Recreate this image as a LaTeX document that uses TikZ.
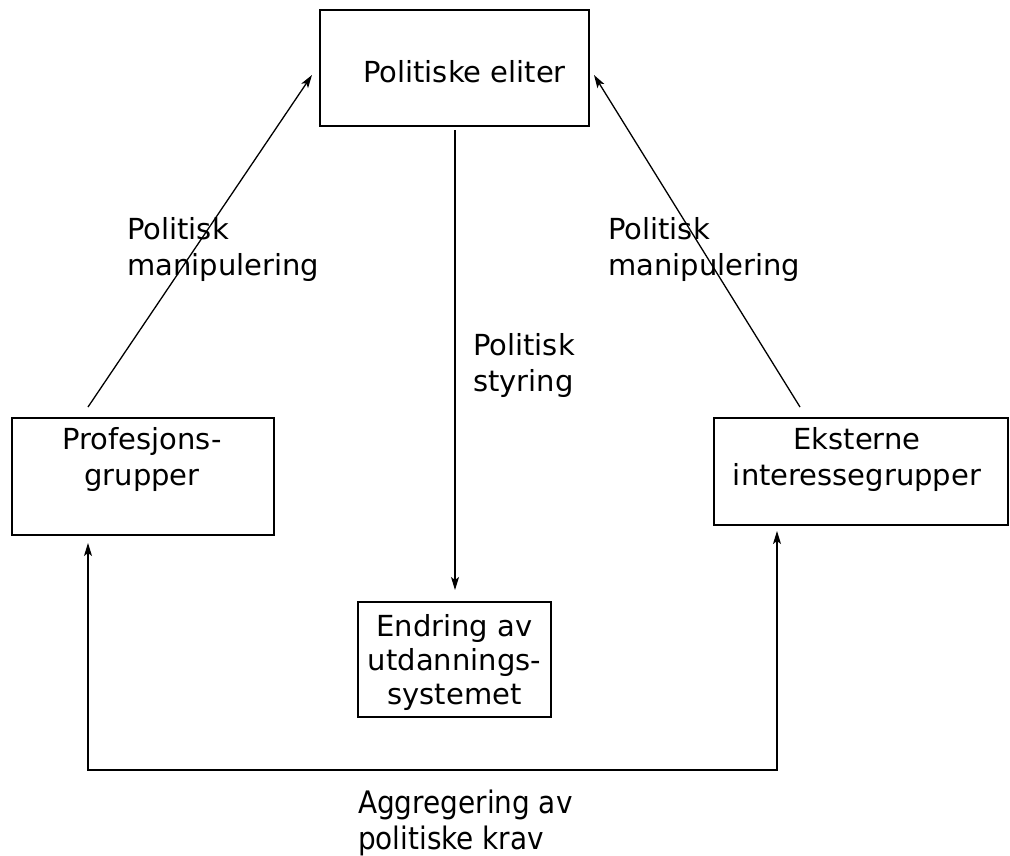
\documentclass[tikz,border=0pt]{standalone}
\usepackage{fontspec}
\setmainfont{DejaVu Sans}
\newfontfamily\condfont{DejaVu Sans Condensed}
\usetikzlibrary{arrows.meta}
\begin{document}
\begin{tikzpicture}[x=1pt,y=-1pt,
  box/.style={draw,line width=1.5pt,inner sep=0pt},
  txt/.style={font=\fontsize{29}{36}\selectfont,align=center,inner sep=0pt},
  tip/.style={Stealth[length=13pt,width=8pt,inset=3pt]},
  conn/.style={line width=1.3pt,-{Stealth[length=13pt,width=8pt,inset=3pt]}},
  conn2/.style={line width=1.3pt,{Stealth[length=13pt,width=8pt,inset=3pt]}-{Stealth[length=13pt,width=8pt,inset=3pt]}}]
\useasboundingbox (0,0) rectangle (1010,855);
% boxes
\node[box,minimum width=269pt,minimum height=116pt] (top) at (454.5,68) {};
\node[box,minimum width=262pt,minimum height=117pt] (left) at (143,476.5) {};
\node[box,minimum width=294pt,minimum height=107pt] (right) at (861,471.5) {};
\node[box,minimum width=193pt,minimum height=115pt] (bot) at (454.5,659.5) {};
% texts
\node[txt] (ttop) at (464.5,72) {Politiske eliter};
\node[txt] (tleft) at (142,459) {Profesjons-\\grupper};
\node[txt] (tright) at (857,459) {Eksterne\\interessegrupper};
\node[txt,font=\fontsize{29}{34}\selectfont] (tbot) at (454.5,662) {Endring av\\utdannings-\\systemet};
% labels
\node[txt,align=left,anchor=west] (l1) at (127,249) {Politisk\\manipulering};
\node[txt,align=left,anchor=west] (l2) at (608,249) {Politisk\\manipulering};
\node[txt,align=left,anchor=west] (l3) at (473,365) {Politisk\\styring};
\node[txt,align=left,anchor=west,font=\condfont\fontsize{31}{36}\selectfont] (l4) at (358,823) {Aggregering av\\politiske krav};
% connectors
\coordinate (a1) at (88,407);
\coordinate (a2) at (312,75);
\coordinate (b1) at (800,407);
\coordinate (b2) at (594,75);
\coordinate (c1) at (455,130);
\coordinate (c2) at (455,590);
\coordinate (d1) at (88,543);
\coordinate (d2) at (777,531);
\coordinate (dc) at (88,770);
\draw[conn] (a1) -- (a2);
\draw[conn] (b1) -- (b2);
\draw[conn] (c1) -- (c2);
\draw[conn2] (d1) -- (dc) -| (d2);
\end{tikzpicture}
\end{document}
